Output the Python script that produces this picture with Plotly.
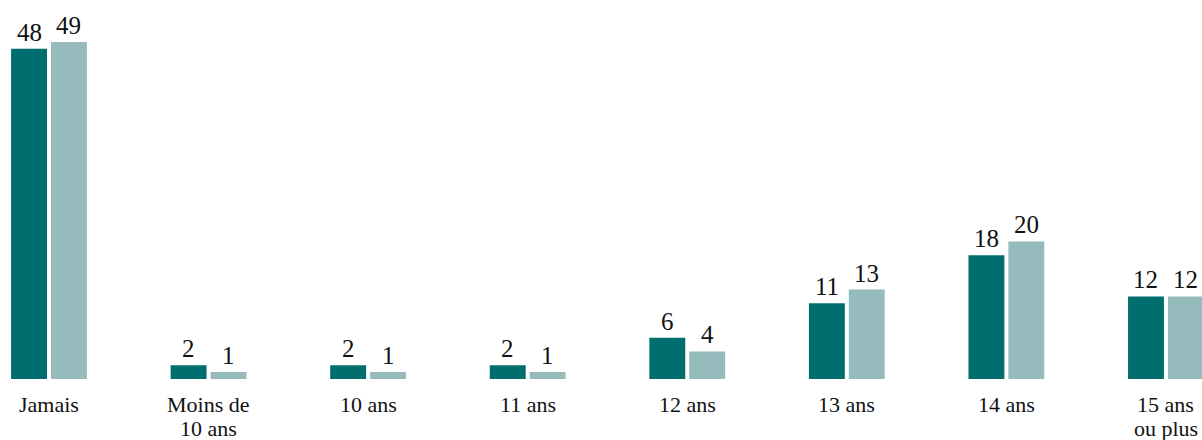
import plotly.graph_objects as go

categories = ["Jamais", "Moins de<br>10 ans", "10 ans", "11 ans", "12 ans",
              "13 ans", "14 ans", "15 ans<br>ou plus"]
series_a = [48, 2, 2, 2, 6, 11, 18, 12]
series_b = [49, 1, 1, 1, 4, 13, 20, 12]

dark = "#006e6f"
light = "#96bbbc"
font_family = "Liberation Serif, DejaVu Serif, serif"
text_color = "#111111"

x_idx = list(range(len(categories)))

fig = go.Figure()
fig.add_trace(go.Bar(x=x_idx, y=series_a, marker_color=dark, marker_line_width=0,
                     hoverinfo="skip", offsetgroup="a"))
fig.add_trace(go.Bar(x=x_idx, y=series_b, marker_color=light, marker_line_width=0,
                     hoverinfo="skip", offsetgroup="b"))

# value labels above each bar
group_w = 0.5
slot = group_w / 2
for vals, off in ((series_a, -slot / 2), (series_b, slot / 2)):
    for i, v in enumerate(vals):
        fig.add_annotation(x=i + off, y=v, text=str(v), showarrow=False,
                           yanchor="bottom", yshift=1,
                           font=dict(family=font_family, size=25, color=text_color))

# category labels below the baseline, one annotation per line
for i, cat in enumerate(categories):
    for j, line in enumerate(cat.split("<br>")):
        fig.add_annotation(x=i, xref="x", y=0, yref="paper", text=line,
                           showarrow=False, yanchor="middle",
                           yshift=-25 - 24 * j,
                           font=dict(family=font_family, size=22, color=text_color))

fig.update_layout(
    width=1202, height=440,
    margin=dict(l=0, r=0, t=0, b=61, autoexpand=False),
    paper_bgcolor="white", plot_bgcolor="white",
    showlegend=False,
    barmode="group", bargap=0.5, bargroupgap=0.1,
    xaxis=dict(range=[-0.307, 7.226], showgrid=False, zeroline=False,
               showline=False, ticks="", showticklabels=False, automargin=False),
    yaxis=dict(range=[0, 55.1], visible=False, showgrid=False, zeroline=False,
               automargin=False),
)

fig.write_html("out.html")
